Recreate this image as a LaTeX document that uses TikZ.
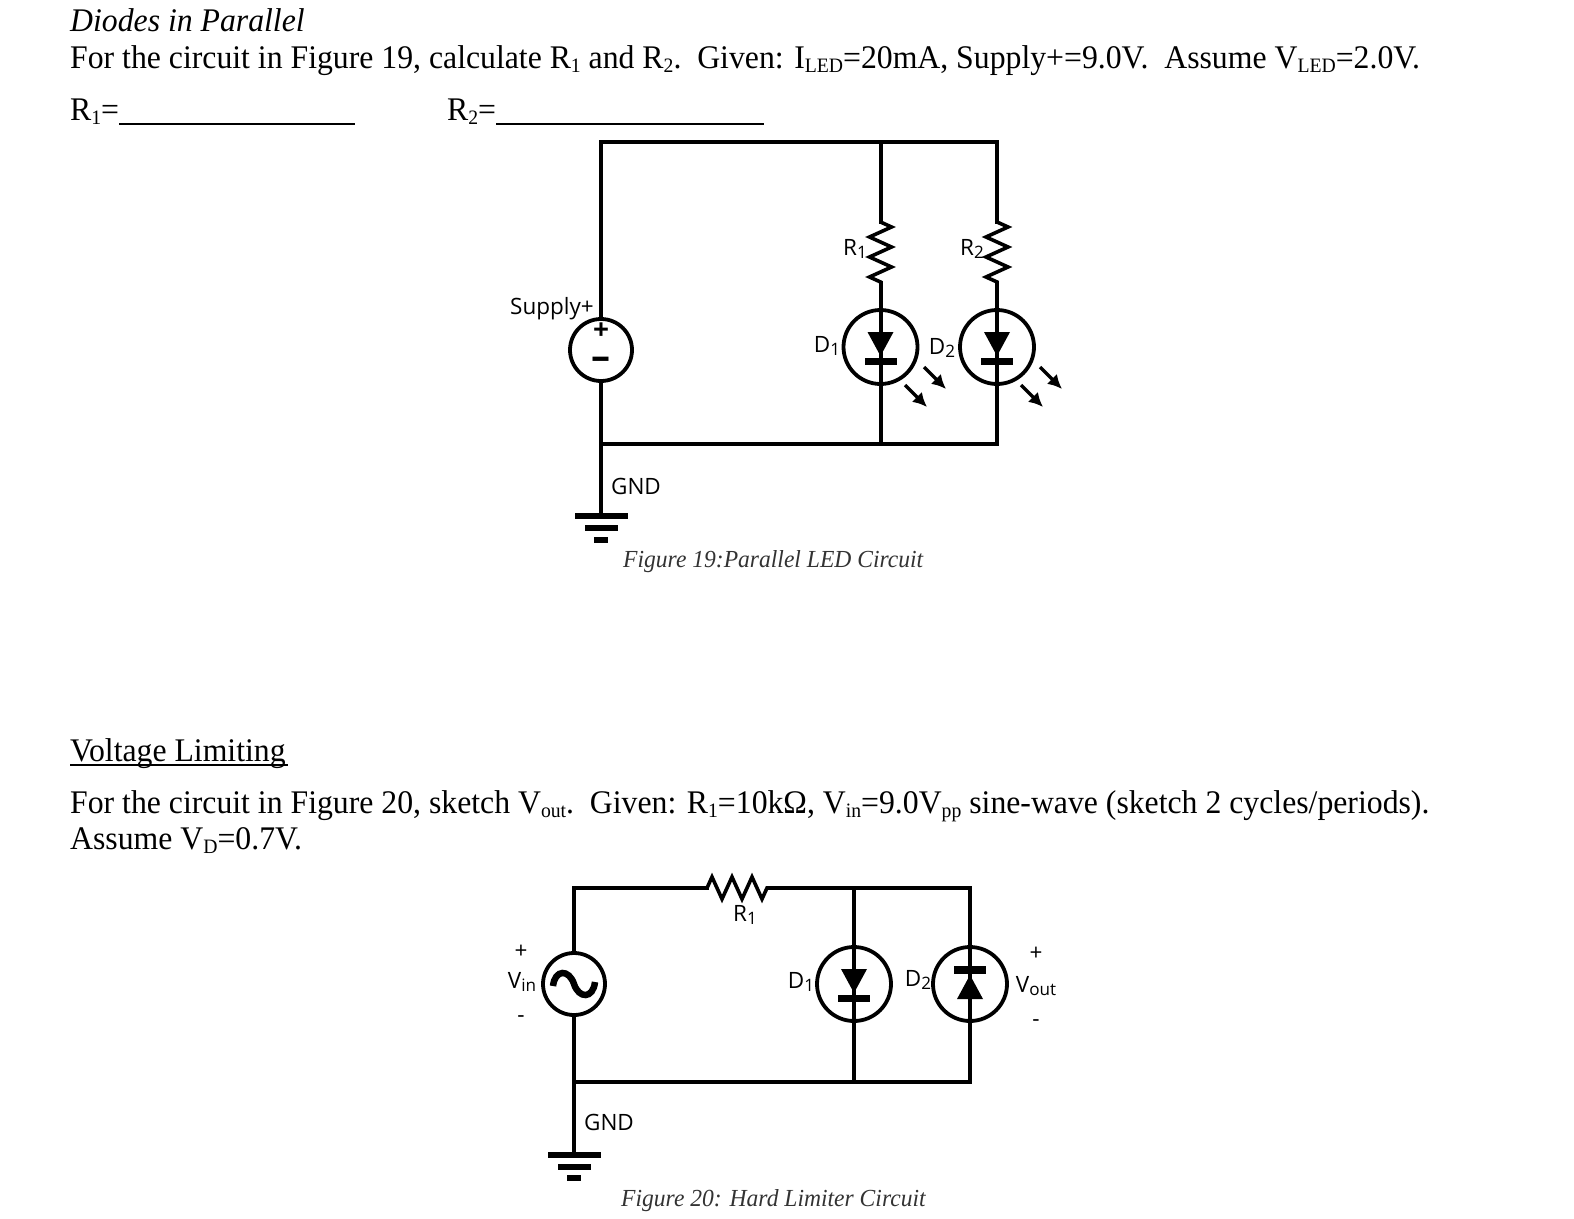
\documentclass[tikz,border=0pt]{standalone}
\usepackage{fontspec}
\setmainfont[FakeStretch=0.962]{Liberation Serif}
\newfontfamily\labelfont{Open Sans}
\usetikzlibrary{decorations.pathmorphing,arrows.meta}
\newcommand{\lowtx}[1]{\raisebox{-0.14em}{\scalebox{0.62}{#1}}}
\newcommand{\lblsub}[1]{\raisebox{-0.16em}{\scalebox{0.76}{#1}}}
\begin{document}
\begin{tikzpicture}[x=1pt, y=-1pt,
	wire/.style={line width=4pt, line cap=rect},
	ressym/.style={line width=3.6pt, decorate, decoration={zigzag, segment length=20pt, amplitude=11pt}},
	srcnode/.style={circle, draw, line width=3.8pt, minimum size=62pt, inner sep=0pt},
	lednode/.style={circle, draw, line width=3.8pt, minimum size=74pt, inner sep=0pt},
	gndbar/.style={line width=6pt},
	ray/.style={line width=3.4pt, -{Latex[length=14pt, width=14pt]}},
	body/.style={anchor=base west, inner sep=0pt, font=\fontsize{33}{36}\selectfont},
	caption/.style={anchor=base west, inner sep=0pt, font=\itshape\fontsize{24.5}{28}\selectfont, text=black!80},
	lbl/.style={inner sep=0pt, font=\labelfont\fontsize{22.5}{25}\selectfont},
	diodesym/.pic={
		\fill (-13,-15) -- (13,-15) -- (0,9) -- cycle;
		\fill (-16,10.5) rectangle (16,18);
	},
	sinesym/.pic={
		\draw[line width=6.5pt] (-21,2) .. controls (-19,-15) and (-5,-15) .. (0,0) .. controls (5,15) and (19,15) .. (21,-2);
	}]
	\useasboundingbox (0,0) rectangle (1574,1218);
	% text
	\node[body, font=\itshape\fontsize{33}{36}\selectfont] (title1) at (70,31) {Diodes in Parallel};
	\node[body] (q1) at (70,68) {For the circuit in Figure 19, calculate R\lowtx{1} and R\lowtx{2}.\ \ Given: I\lowtx{LED}=20mA, Supply+=9.0V.\ \ Assume V\lowtx{LED}=2.0V.};
	\node[body] (ansr1) at (70,120) {R\lowtx{1}=\rule[-5pt]{236pt}{1.6pt}};
	\node[body] (ansr2) at (447,120) {R\lowtx{2}=\rule[-5pt]{268pt}{1.6pt}};
	\node[body] (title2) at (70,761) {\rlap{\rule[-5pt]{218pt}{1.8pt}}Voltage Limiting};
	\node[body] (q2) at (70,813) {For the circuit in Figure 20, sketch V\lowtx{out}.\ \ Given: R\lowtx{1}=10kΩ, V\lowtx{in}=9.0V\lowtx{pp} sine-wave (sketch 2 cycles/periods).};
	\node[body] (q3) at (70,849) {Assume V\lowtx{D}=0.7V.};
	\node[caption] (cap1) at (623,567) {Figure 19:Parallel LED Circuit};
	\node[caption] (cap2) at (621,1206) {Figure 20: Hard Limiter Circuit};

	% figure 19
	\coordinate (tl1) at (601,142);
	\coordinate (tm1) at (880.5,142);
	\coordinate (tr1) at (997,142);
	\coordinate (bl1) at (601,444);
	\coordinate (bm1) at (880.5,444);
	\coordinate (br1) at (997,444);
	\coordinate (r1a) at (880.5,222);
	\coordinate (r1b) at (880.5,283);
	\coordinate (r2a) at (997,222);
	\coordinate (r2b) at (997,283);
	\coordinate (g1) at (601,516);
	\node[srcnode] (vs) at (601,350) {};
	\node[lednode] (d1) at (880.5,347) {};
	\node[lednode] (d2) at (997,347) {};
	\draw[wire] (vs.north) -- (tl1) -- (tr1) -- (r2a);
	\draw[wire] (tm1) -- (r1a);
	\draw[ressym] (r1a) -- (r1b);
	\draw[ressym] (r2a) -- (r2b);
	\draw[wire] (r1b) -- (d1.center) -- (bm1);
	\draw[wire] (r2b) -- (d2.center) -- (br1) -- (bl1);
	\draw[wire] (vs.south) -- (g1);
	\pic at (d1.center) {diodesym};
	\pic at (d2.center) {diodesym};
	\coordinate (a1s) at (924,367); \coordinate (a1e) at (946,389);
	\coordinate (a2s) at (905,385); \coordinate (a2e) at (927,407);
	\coordinate (a3s) at (1040,367); \coordinate (a3e) at (1062,389);
	\coordinate (a4s) at (1021,385); \coordinate (a4e) at (1043,407);
	\draw[ray] (a1s) -- (a1e);
	\draw[ray] (a2s) -- (a2e);
	\draw[ray] (a3s) -- (a3e);
	\draw[ray] (a4s) -- (a4e);
	\node[lbl, font=\labelfont\bfseries\fontsize{28}{30}\selectfont] (vsp) at (601,331) {+};
	\node[lbl, font=\labelfont\bfseries\fontsize{38}{40}\selectfont] (vsm) at (601,363) {–};
	\node[lbl] (supply) at (552,309) {Supply+};
	\node[lbl] (lr1) at (855,249) {R\lblsub{1}};
	\node[lbl] (lr2) at (972,249) {R\lblsub{2}};
	\node[lbl] (ld1) at (827,346) {D\lblsub{1}};
	\node[lbl] (ld2) at (942,348) {D\lblsub{2}};
	\node[lbl] (gnd1) at (636,486) {GND};
	\coordinate (g1a) at (575,516); \coordinate (g1b) at (628,516);
	\coordinate (g1c) at (585,528); \coordinate (g1d) at (618,528);
	\coordinate (g1e) at (594,540); \coordinate (g1f) at (608,540);
	\draw[gndbar] (g1a) -- (g1b);
	\draw[gndbar] (g1c) -- (g1d);
	\draw[gndbar] (g1e) -- (g1f);

	% figure 20
	\coordinate (tl2) at (574,888);
	\coordinate (r3a) at (707,888);
	\coordinate (r3b) at (772,888);
	\coordinate (tm2) at (854,888);
	\coordinate (tr2) at (970,888);
	\coordinate (bl2) at (574,1082);
	\coordinate (bm2) at (854,1082);
	\coordinate (br2) at (970,1082);
	\coordinate (g2) at (574,1153);
	\node[srcnode] (vi) at (574,984) {};
	\node[lednode] (d3) at (854,984) {};
	\node[lednode] (d4) at (970,984) {};
	\draw[wire] (vi.north) -- (tl2) -- (r3a);
	\draw[ressym] (r3a) -- (r3b);
	\draw[wire] (r3b) -- (tr2) -- (d4.center) -- (br2) -- (bl2);
	\draw[wire] (tm2) -- (d3.center) -- (bm2);
	\draw[wire] (vi.south) -- (g2);
	\pic at (d3.center) {diodesym};
	\pic[rotate=180] at (d4.center) {diodesym};
	\pic at (vi.center) {sinesym};
	\node[lbl] (vip) at (521,952) {+};
	\node[lbl] (vinl) at (522,982) {V\lblsub{in}};
	\node[lbl] (vim) at (521,1019) {-};
	\node[lbl] (lr3) at (745,915) {R\lblsub{1}};
	\node[lbl] (ld3) at (801,982) {D\lblsub{1}};
	\node[lbl] (ld4) at (918,980) {D\lblsub{2}};
	\node[lbl] (vop) at (1036,954) {+};
	\node[lbl] (voutl) at (1036,986) {V\lblsub{out}};
	\node[lbl] (vom) at (1036,1023) {-};
	\node[lbl] (gnd2) at (609,1122) {GND};
	\coordinate (g2a) at (548,1155); \coordinate (g2b) at (601,1155);
	\coordinate (g2c) at (558,1167); \coordinate (g2d) at (591,1167);
	\coordinate (g2e) at (567,1178); \coordinate (g2f) at (581,1178);
	\draw[gndbar] (g2a) -- (g2b);
	\draw[gndbar] (g2c) -- (g2d);
	\draw[gndbar] (g2e) -- (g2f);
\end{tikzpicture}
\end{document}
